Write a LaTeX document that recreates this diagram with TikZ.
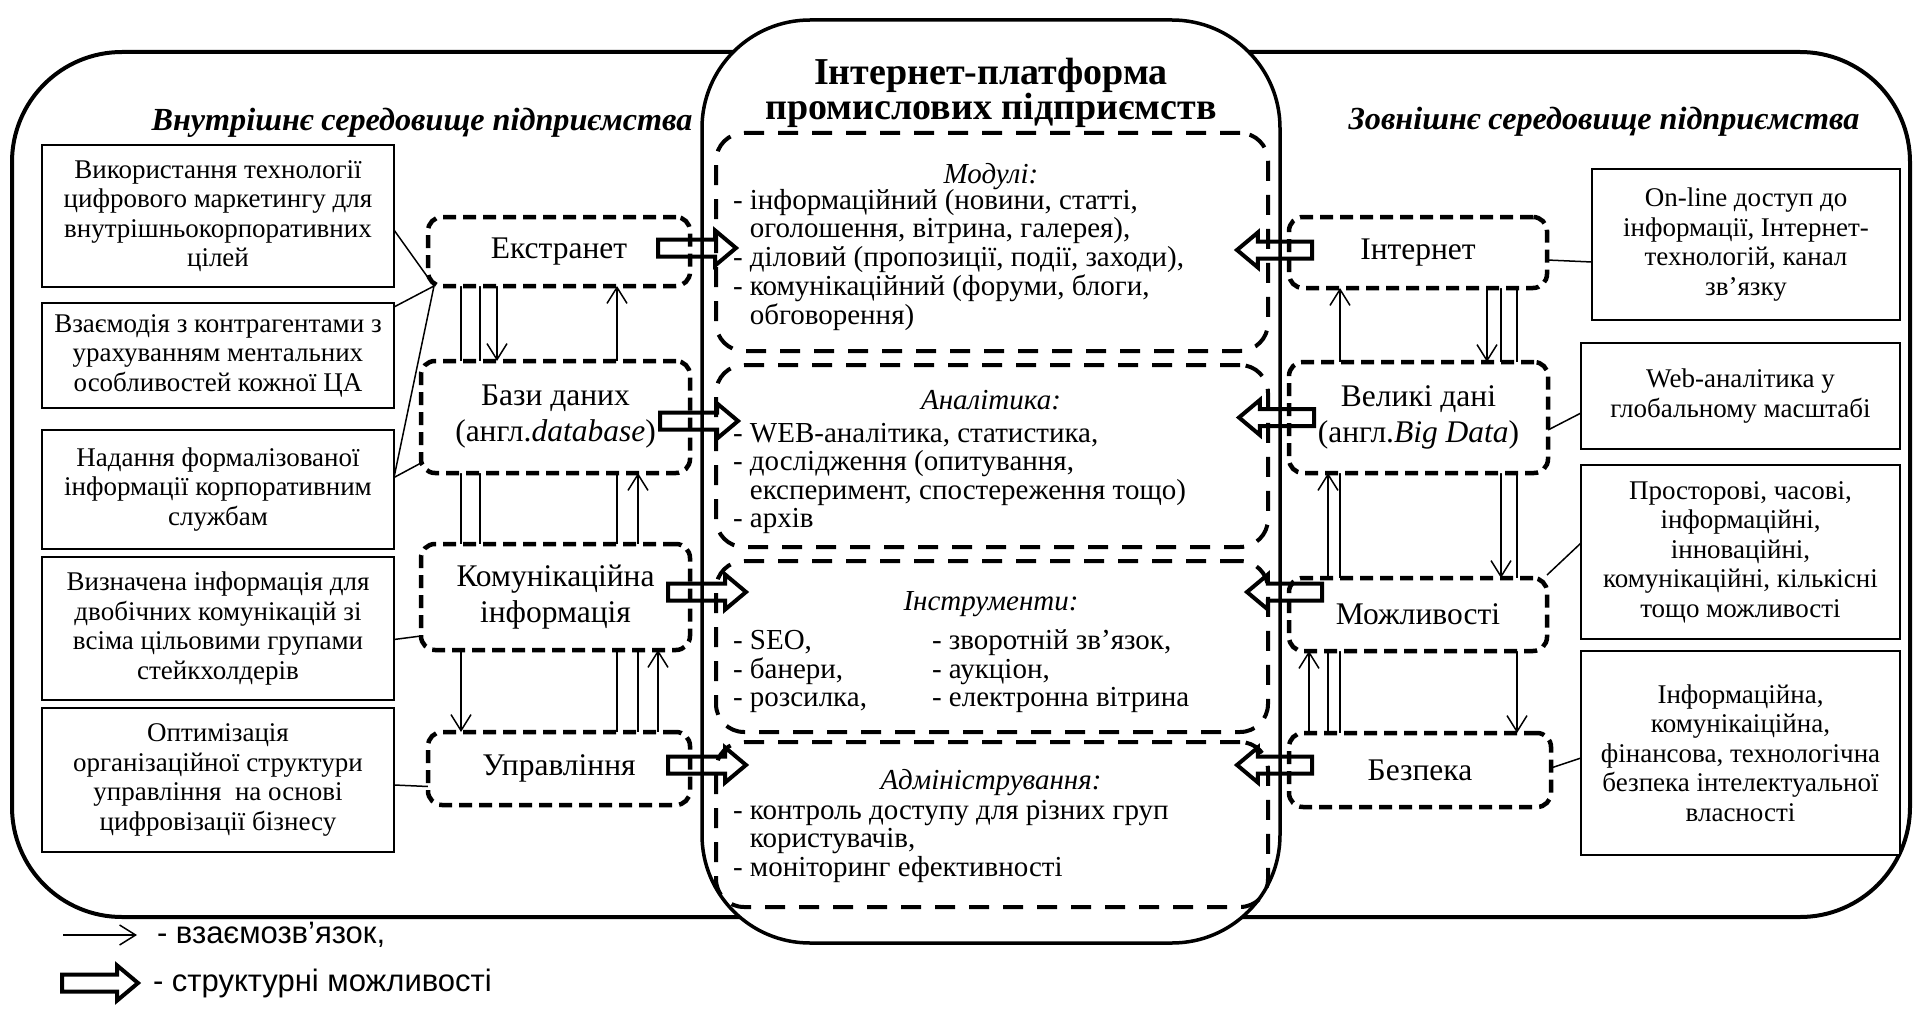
\documentclass[tikz,border=0pt]{standalone}
\usepackage{fontspec}
\setmainfont{Liberation Serif}
\newfontfamily\keyfont{Liberation Sans}
\usepackage{tikz}
\usetikzlibrary{arrows.meta, positioning, shapes.arrows, backgrounds}

\begin{document}
\begin{tikzpicture}[
    x=1pt, y=-1pt,
    every node/.style={inner sep=0pt, outer sep=0pt},
    env/.style={draw, line width=4pt, rounded corners=110pt},
    platform/.style={draw, line width=3.5pt, rounded corners=108pt, fill=white},
    panel/.style={draw, line width=4pt, dash pattern=on 20pt off 14pt,
                  rounded corners=28pt},
    note/.style={draw, line width=1.4pt, fill=white, align=center,
                 font=\fontsize{27}{29.5}\selectfont},
    unit/.style={draw, line width=4.5pt, dash pattern=on 13pt off 7pt,
                 rounded corners=14pt, fill=white, align=center,
                 font=\fontsize{31.5}{36}\selectfont},
    envtitle/.style={font=\fontsize{32.2}{34}\selectfont\bfseries\itshape, anchor=base},
    paneltitle/.style={font=\fontsize{29}{28.5}\selectfont\itshape, anchor=base},
    panellist/.style={font=\fontsize{29}{28.5}\selectfont, anchor=base west},
    key/.style={font=\fontsize{31}{34}\selectfont\keyfont},
    rel/.style={line width=1.5pt, -{Straight Barb[length=16pt, width=20pt]}},
    link/.style={line width=1.5pt},
    struct/.style={single arrow, draw, line width=4pt, inner sep=6.5pt,
                   single arrow head extend=9pt, single arrow tip angle=80,
                   minimum height=78pt, anchor=tail},
    structl/.style={struct, shape border rotate=180, minimum height=75pt},
  ]
  \useasboundingbox (0,0) rectangle (1915,1022);

  \draw[env] (12,52) rectangle (900,917);
  \draw[env] (1080,52) rectangle (1910,917);
  \draw[platform] (702,20) rectangle (1280,943);

  \node[panel, minimum width=552pt, minimum height=218pt] (mod) at (992,242) {};
  \node[panel, minimum width=552pt, minimum height=182pt] (ana) at (992,456) {};
  \node[panel, minimum width=552pt, minimum height=171pt] (ins) at (992,646.5) {};
  \node[panel, minimum width=552pt, minimum height=165pt] (adm) at (992,824.5) {};

  \node[font=\fontsize{38}{34}\selectfont\bfseries, align=center] (title) at (991,93)
    {Інтернет-платформа\\промислових підприємств};
  \node[envtitle] (inhead) at (422,131) {Внутрішнє середовище підприємства};
  \node[envtitle] (exhead) at (1604,130) {Зовнішнє середовище підприємства};

  \node[paneltitle] at (991,183) {Модулі:};
  \node[panellist] at (733,209) {\begin{tabular}[t]{@{}l@{\ }l@{}}
      -& інформаційний (новини, статті,\\
       & оголошення, вітрина, галерея),\\
      -& діловий (пропозиції, події, заходи),\\
      -& комунікаційний (форуми, блоги,\\
       & обговорення)\end{tabular}};
  \node[paneltitle] at (991,409) {Аналітика:};
  \node[panellist] at (733,442) {\begin{tabular}[t]{@{}l@{\ }l@{}}
      -& WEB-аналітика, статистика,\\
      -& дослідження (опитування,\\
       & експеримент, спостереження тощо)\\
      -& архів\end{tabular}};
  \node[paneltitle] at (991,610) {Інструменти:};
  \node[panellist] at (733,649) {\begin{tabular}[t]{@{}p{199pt}@{}l@{}}
      - SEO, & - зворотній зв'язок,\\
      - банери, & - аукціон,\\
      - розсилка, & - електронна вітрина\end{tabular}};
  \node[paneltitle] at (991,789) {Адміністрування:};
  \node[panellist] at (733,819) {\begin{tabular}[t]{@{}l@{\ }l@{}}
      -& контроль доступу для різних груп\\
       & користувачів,\\
      -& моніторинг ефективності\end{tabular}};

  \node[note, minimum width=352pt, minimum height=142pt] (digital) at (218,216)
    {Використання технології\\цифрового маркетингу для\\внутрішньокорпоративних\\цілей};
  \node[note, minimum width=352pt, minimum height=105pt, below=16pt of digital] (partner)
    {Взаємодія з контрагентами з\\урахуванням ментальних\\особливостей кожної ЦА};
  \node[note, minimum width=352pt, minimum height=119pt, below=22pt of partner] (formal)
    {Надання формалізованої\\інформації корпоративним\\службам};
  \node[note, minimum width=352pt, minimum height=143pt, below=8pt of formal] (stake)
    {Визначена інформація для\\двобічних комунікацій зі\\всіма цільовими групами\\стейкхолдерів};
  \node[note, minimum width=352pt, minimum height=144pt, below=8pt of stake] (optim)
    {Оптимізація\\організаційної структури\\управління\ \ на основі\\цифровізації бізнесу};

  \node[note, minimum width=308pt, minimum height=151pt] (online) at (1746,244.5)
    {On-line доступ до\\інформації, Інтернет-\\технологій, канал\\зв’язку};
  \node[note, minimum width=319pt, minimum height=106pt,
        below=23pt of online.south east, anchor=north east] (weban)
    {Web-аналітика у\\глобальному масштабі};
  \node[note, minimum width=319pt, minimum height=174pt, below=16pt of weban] (space)
    {Просторові, часові,\\інформаційні,\\інноваційні,\\комунікаційні, кількісні\\тощо можливості};
  \node[note, minimum width=319pt, minimum height=204pt, below=12pt of space] (safe)
    {Інформаційна,\\комунікаіційна,\\фінансова, технологічна\\безпека інтелектуальної\\власності};

  \node[unit, minimum width=262pt, minimum height=69pt] (ext) at (559,251.5) {Екстранет};
  \node[unit, minimum width=269pt, minimum height=112pt,
        below=75pt of ext.south east, anchor=north east] (db)
    {Бази даних\\(англ.\textit{database})};
  \node[unit, minimum width=269pt, minimum height=106pt,
        below=71pt of db.south east, anchor=north east] (com)
    {Комунікаційна\\інформація};
  \node[unit, minimum width=262pt, minimum height=73pt,
        below=82pt of com.south east, anchor=north east] (man) {Управління};

  \node[unit, minimum width=258pt, minimum height=71pt] (inet) at (1418,252.5) {Інтернет};
  \node[unit, minimum width=259pt, minimum height=111pt,
        below=74pt of inet.south west, anchor=north west] (big)
    {Великі дані\\(англ.\textit{Big Data})};
  \node[unit, minimum width=258pt, minimum height=73pt,
        below=105pt of big.south west, anchor=north west] (opp) {Можливості};
  \node[unit, minimum width=262pt, minimum height=74pt,
        below=82pt of opp.south west, anchor=north west] (sec) {Безпека};

  \node[struct] (sext) at ([shift={(-32pt,3.5pt)}]ext.east) {};
  \node[struct] (sdb) at ([shift={(-30pt,-4pt)}]db.east) {};
  \node[struct] (scom) at ([shift={(-22pt,5pt)}]com.east) {};
  \node[struct] (sman) at ([shift={(-22pt,3.5pt)}]man.east) {};
  \node[structl] (sinet) at ([shift={(23pt,2.5pt)}]inet.west) {};
  \node[structl] (sbig) at ([shift={(25pt,0pt)}]big.west) {};
  \node[structl] (sopp) at ([shift={(33pt,22.5pt)}]opp.west) {};
  \node[structl] (ssec) at ([shift={(23pt,5pt)}]sec.west) {};

  \coordinate (lc1) at (461,0);
  \coordinate (lc2) at (480,0);
  \coordinate (lc3) at (497,0);
  \coordinate (lc4) at (617,0);
  \coordinate (lc5) at (638,0);
  \coordinate (lc6) at (658,0);
  \coordinate (rc1) at (1309,0);
  \coordinate (rc2) at (1328,0);
  \coordinate (rc3) at (1340,0);
  \coordinate (rc4) at (1487,0);
  \coordinate (rc5) at (1501,0);
  \coordinate (rc6) at (1517,0);

  \begin{scope}[on background layer]
    \draw[rel] (ext.south -| lc1) -- (man.north -| lc1);
    \draw[link] (ext.south -| lc2) -- (com.north -| lc2);
    \draw[rel] (ext.south -| lc3) -- (db.north -| lc3);
    \draw[rel] (man.north -| lc4) -- (ext.south -| lc4);
    \draw[rel] (man.north -| lc5) -- (db.south -| lc5);
    \draw[rel] (man.north -| lc6) -- (com.south -| lc6);

    \draw[rel] (sec.north -| rc1) -- (opp.south -| rc1);
    \draw[rel] (sec.north -| rc2) -- (big.south -| rc2);
    \draw[rel] (sec.north -| rc3) -- (inet.south -| rc3);
    \draw[rel] (inet.south -| rc4) -- (big.north -| rc4);
    \draw[rel] (inet.south -| rc5) -- (opp.north -| rc5);
    \draw[rel] (inet.south -| rc6) -- (sec.north -| rc6);

    \draw[link] ([yshift=-14pt]digital.east) -- ([xshift=6pt]ext.south west);
    \draw[link] ([yshift=-4pt]partner.north east) -- ([xshift=6pt]ext.south west);
    \draw[link] ([yshift=12pt]formal.east) -- ([xshift=6pt]ext.south west);
    \draw[link] ([yshift=12pt]formal.east) -- ([yshift=10pt]db.south west);
    \draw[link] ([yshift=-11pt]stake.east) -- ([yshift=14pt]com.south west);
    \draw[link] ([yshift=-5pt]optim.east) -- ([yshift=-18pt]man.west);

    \draw[link] ([yshift=-7.5pt]inet.east) -- ([yshift=-17.5pt]online.west);
    \draw[link] ([yshift=-12.5pt]big.east) -- ([yshift=-17pt]weban.west);
    \draw[link] ([yshift=3pt]opp.north east) -- ([yshift=9pt]space.west);
    \draw[link] ([yshift=2pt]sec.east) -- ([yshift=-5pt]safe.west);
  \end{scope}

  \coordinate (keyfrom) at (63,935);
  \coordinate (keyto) at (137,935);
  \draw[rel] (keyfrom) -- (keyto);
  \node[key, right=20pt of keyto] (keyrel) {- взаємозв’язок,};
  \node[struct, minimum height=76pt] (keyarrow) at (62,983) {};
  \node[key, right=15pt of keyarrow.tip] (keystruct) {- структурні можливості};
\end{tikzpicture}
\end{document}
